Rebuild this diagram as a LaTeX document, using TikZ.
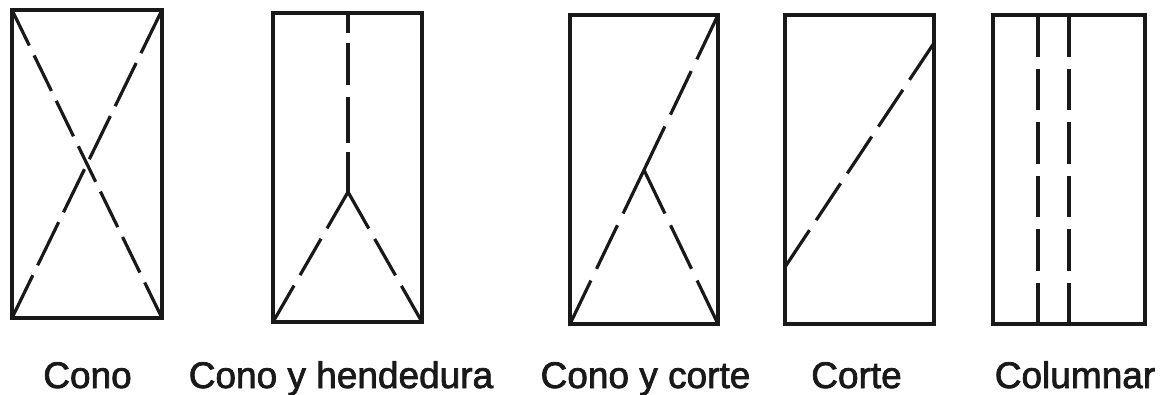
\documentclass[tikz,border=0pt]{standalone}
\usepackage{fontspec}
\setmainfont{Liberation Sans}
\newfontfamily\lblfont[FakeBold=2]{Liberation Sans}
\begin{document}
\begin{tikzpicture}[x=1pt,y=-1pt,
  frame/.style={draw=black!90,line width=3.2pt,line join=miter},
  crack/.style={draw=black!90,line width=3.2pt},
  lbl/.style={anchor=base,font=\lblfont\fontsize{37}{40}\selectfont,text=black!90,inner sep=0pt}]
\useasboundingbox (0,0) rectangle (1166,394);
% Cono
\draw[frame] (12,10) rectangle (162,318);
\draw[crack,dash pattern=on 39.5pt off 11pt] (12,10) -- (162,318);
\draw[crack,dash pattern=on 48pt off 11pt] (162,10) -- (12,318);
\node[lbl] (l1) at (87.5,388) {Cono};
% Cono y hendedura
\draw[frame] (273,13) rectangle (422,322);
\coordinate (c2) at (348,192);
\draw[crack,dash pattern=on 20pt off 10pt on 42pt off 12pt on 46pt off 9pt on 60pt off 0pt] (348,13) -- (c2);
\draw[crack,dash pattern=on 42pt off 12pt] (c2) -- (273,322);
\draw[crack,dash pattern=on 42pt off 12pt] (c2) -- (422,322);
\node[lbl] (l2) at (341,388) {Cono y hendedura};
% Cono y corte
\draw[frame] (570,15) rectangle (718,324);
\coordinate (c3) at (644,170);
\draw[crack,dash pattern=on 48.3pt off 13pt] (c3) -- (718,15);
\draw[crack,dash pattern=on 48.3pt off 13pt] (c3) -- (570,324);
\draw[crack,dash pattern=on 48.3pt off 13pt] (c3) -- (718,324);
\node[lbl] (l3) at (645.5,388) {Cono y corte};
% Corte
\draw[frame] (785,15) rectangle (934,324);
\draw[crack,dash pattern=on 44.2pt off 12pt] (934,43) -- (785,267);
\node[lbl] (l4) at (856.5,388) {Corte};
% Columnar
\draw[frame] (993,15) rectangle (1145,324);
\draw[crack,dash pattern=on 41.5pt off 12pt] (1038,15) -- (1038,324);
\draw[crack,dash pattern=on 41.5pt off 12pt] (1069,15) -- (1069,324);
\node[lbl] (l5) at (1075,388) {Columnar};
\end{tikzpicture}
\end{document}
